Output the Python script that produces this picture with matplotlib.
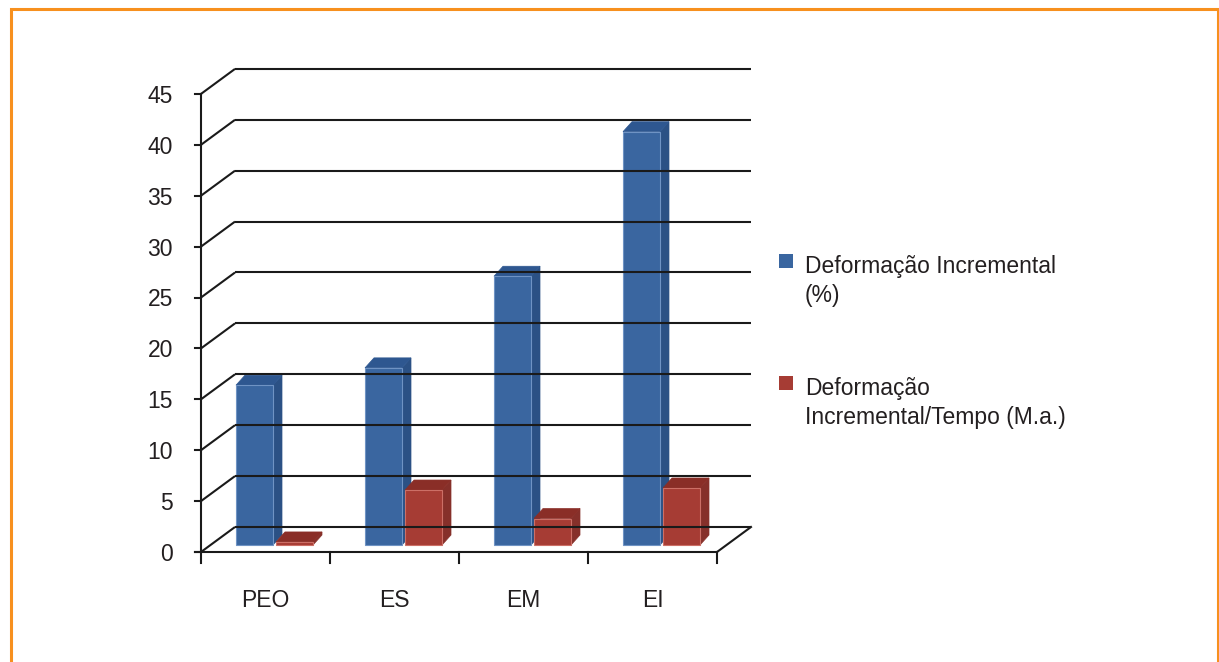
import numpy as np
import matplotlib.pyplot as plt
from matplotlib.patches import Polygon, Rectangle

plt.rcParams['font.family'] = ['Liberation Sans', 'DejaVu Sans']

categories = ['PEO', 'ES', 'EM', 'EI']
deform_pct = [15.7, 17.4, 26.4, 40.6]
deform_rate = [0.3, 5.4, 2.6, 5.6]
yticks = [0, 5, 10, 15, 20, 25, 30, 35, 40, 45]
series_names = [['Deformação Incremental', '(%)'], ['Deformação', 'Incremental/Tempo (M.a.)']]

# pseudo 3d geometry (category units / value units)
PX_X = 129.0
PX_Y = 10.18
DX, DY = 34 / PX_X, 25 / PX_Y          # wall depth
BDX, BDY = 9 / PX_X, 10 / PX_Y         # bar depth
BASE = 7 / PX_Y                         # bar bottom above floor front
BAR_W = 37 / PX_X
OFFS = [35 / PX_X, 75 / PX_X]
FS = 16.5

colors = [('#3A66A0', '#2B5185', '#2E5790', '#6F93C4'),
          ('#A63C34', '#86302A', '#8A2E27', '#CC6F66')]
txt = '#231F20'
grid_c = '#1A1A1A'

fig = plt.figure(figsize=(12.19, 6.62), dpi=100)
ax = fig.add_axes([0, 0, 1, 1])
ax.set_xlim(-201 / PX_X, (1219 - 201) / PX_X)
ax.set_ylim((552 - 662) / PX_Y, 552 / PX_Y)
ax.axis('off')

n = len(categories)
lw = 1.5

# back wall + left wall grid
for v in yticks:
    ax.plot([0, DX], [v, v + DY], color=grid_c, lw=lw, solid_capstyle='butt')
    ax.plot([DX, n + DX], [v + DY, v + DY], color=grid_c, lw=lw, solid_capstyle='butt')
    ax.plot([-6 / PX_X, 0], [v, v], color=grid_c, lw=lw)
    ax.text(-28 / PX_X, v - 9 / PX_Y, str(v), ha='right', va='baseline', fontsize=FS, color=txt)

# y axis and floor
ax.plot([0, 0], [0, yticks[-1]], color=grid_c, lw=lw)
ax.plot([-6 / PX_X, n], [0, 0], color=grid_c, lw=lw)
ax.plot([n, n + DX], [0, DY], color=grid_c, lw=lw)
for i in range(n + 1):
    ax.plot([i, i], [0, -11 / PX_Y], color=grid_c, lw=lw)
for i, c in enumerate(categories):
    ax.text(i + 0.5, -55 / PX_Y, c, ha='center', va='baseline', fontsize=FS, color=txt)


def draw_bar(x0, h, cols):
    front, side, top, edge = cols
    y0, y1 = BASE, BASE + h
    x1 = x0 + BAR_W
    ax.add_patch(Polygon([(x1, y0), (x1 + BDX, y0 + BDY), (x1 + BDX, y1 + BDY), (x1, y1)],
                         closed=True, fc=side, ec=side, lw=0.5))
    ax.add_patch(Polygon([(x0, y1), (x1, y1), (x1 + BDX, y1 + BDY), (x0 + BDX, y1 + BDY)],
                         closed=True, fc=top, ec=top, lw=0.5))
    ax.add_patch(Rectangle((x0, y0), BAR_W, h, fc=front, ec=edge, lw=0.8))


for i in range(n):
    for s, vals in enumerate([deform_pct, deform_rate]):
        draw_bar(i + OFFS[s], vals[i], colors[s])

# legend
for s, lines in enumerate(series_names):
    ytop = [254, 376][s]
    ax.add_patch(Rectangle(((779 - 201) / PX_X, (552 - ytop - 14) / PX_Y), 14 / PX_X, 14 / PX_Y,
                           fc=colors[s][0], ec='none'))
    for k, line in enumerate(lines):
        base = ytop + 19 + 29 * k
        ax.text((805 - 201) / PX_X, (552 - base) / PX_Y, line, ha='left', va='baseline',
                fontsize=FS, color=txt)

# orange frame
fig.patches.append(Rectangle((11 / 1219, -0.05), 1207 / 1219, 1.05 - 9 / 662,
                             transform=fig.transFigure, fill=False, ec='#F7901E', lw=2.2))

fig.savefig('out.png', dpi=100)
